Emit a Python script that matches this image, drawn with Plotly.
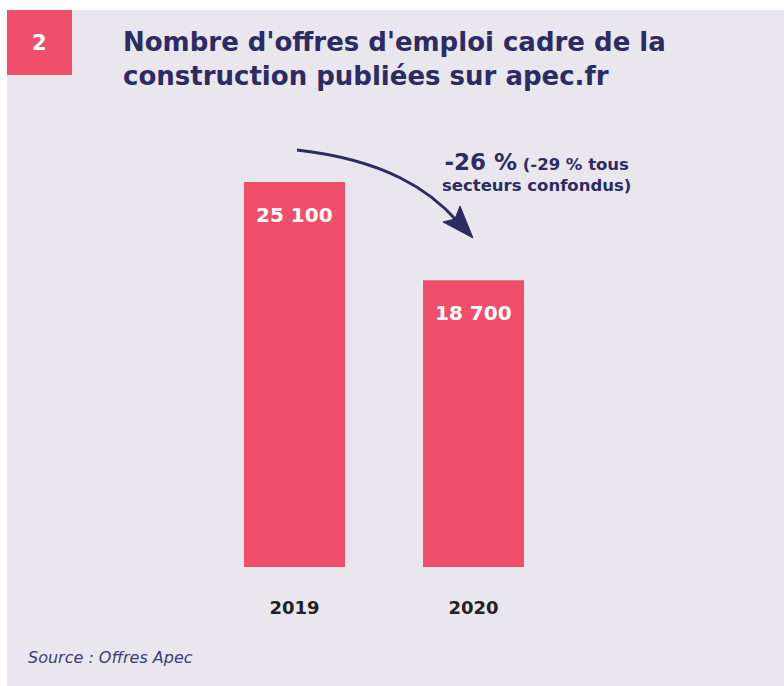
import plotly.graph_objects as go

# === DATA ===
years = ["2019", "2020"]
offers = [25100, 18700]
value_labels = ["25 100", "18 700"]

TITLE = "Nombre d'offres d'emploi cadre de la<br>construction publiées sur apec.fr"
CHANGE_MAIN = "-26 %"
CHANGE_NOTE = "(-29 % tous<br>secteurs confondus)"
SOURCE = "Source : Offres Apec"

# === STYLE ===
W, H = 784, 686
L, R, T, B = 205, 221, 130, 119
PW, PH = W - L - R, H - T - B
BG = "#e9e6ee"
PINK = "#f04e6b"
NAVY = "#2c2c63"
FONT = "DejaVu Sans, sans-serif"


# pixel -> paper coords
def px(x):
    return (x - L) / PW


def py(y):
    return (H - B - y) / PH


fig = go.Figure(go.Bar(
    x=years,
    y=offers,
    marker=dict(color=PINK, line=dict(width=0)),
    hoverinfo="x+y",
))

# value labels just under the bar tops
for i, (v, lab) in enumerate(zip(offers, value_labels)):
    fig.add_annotation(x=i, y=v, text=f"<b>{lab}</b>", showarrow=False,
                       xanchor="center", yanchor="middle", yshift=-33,
                       font=dict(family=FONT, size=20, color="white"))

# background panel + numbered box
fig.add_shape(type="rect", xref="paper", yref="paper", layer="below",
              x0=px(7), x1=px(W + 10), y0=py(10), y1=py(H + 10),
              fillcolor=BG, line=dict(width=0))
fig.add_shape(type="rect", xref="paper", yref="paper",
              x0=px(7), x1=px(72), y0=py(10), y1=py(75),
              fillcolor=PINK, line=dict(width=0))
fig.add_annotation(xref="paper", yref="paper", x=px(39.5), y=py(43),
                   xanchor="center", yanchor="middle",
                   text="<b>2</b>", showarrow=False,
                   font=dict(family=FONT, size=21, color="white"))

# title
fig.add_annotation(xref="paper", yref="paper", x=px(121), y=py(59),
                   xanchor="left", yanchor="middle", align="left",
                   text=f"<b>{TITLE}</b>", showarrow=False,
                   font=dict(family=FONT, size=26, color=NAVY))

# curved arrow
p = [(297, 150), (385, 160), (430, 190), (458, 222)]
path = "M {:.4f},{:.4f} C {:.4f},{:.4f} {:.4f},{:.4f} {:.4f},{:.4f}".format(
    px(p[0][0]), py(p[0][1]), px(p[1][0]), py(p[1][1]),
    px(p[2][0]), py(p[2][1]), px(p[3][0]), py(p[3][1]))
fig.add_shape(type="path", xref="paper", yref="paper", path=path,
              line=dict(color=NAVY, width=3))
head = [(473, 238), (443, 222), (455, 219), (460, 206)]
hpath = "M " + " L ".join(f"{px(a):.4f},{py(b):.4f}" for a, b in head) + " Z"
fig.add_shape(type="path", xref="paper", yref="paper", path=hpath,
              fillcolor=NAVY, line=dict(color=NAVY, width=1))

# change annotation
fig.add_annotation(xref="paper", yref="paper", x=px(536), y=py(172),
                   xanchor="center", yanchor="middle", align="center",
                   text=(f"<b><span style='font-size:23px'>{CHANGE_MAIN}</span>"
                         f" {CHANGE_NOTE}</b>"),
                   showarrow=False,
                   font=dict(family=FONT, size=16.5, color=NAVY))

# source
fig.add_annotation(xref="paper", yref="paper", x=px(26), y=py(657),
                   xanchor="left", yanchor="middle",
                   text=f"<i>{SOURCE}</i>", showarrow=False,
                   font=dict(family=FONT, size=16, color="#3d3d7c"))

fig.update_layout(
    width=W, height=H,
    margin=dict(l=L, r=R, t=T, b=B, pad=0),
    paper_bgcolor="white",
    plot_bgcolor="rgba(0,0,0,0)",
    bargap=1 - 101 / 179,
    showlegend=False,
    xaxis=dict(type="category", range=[-0.5, 1.5], showgrid=False,
               zeroline=False, showline=False, ticks="", ticklabelstandoff=28,
               tickfont=dict(family=FONT, size=18, color="#222222", weight="bold")),
    yaxis=dict(range=[0, 25100 * PH / 385], visible=False, showgrid=False,
               zeroline=False, fixedrange=True),
)

# drop the default page margin so the figure fills the window
fig.write_html("out.html",
               config={"displayModeBar": False},
               post_script="document.body.style.margin='0';"
                           "document.body.style.overflow='hidden';")
